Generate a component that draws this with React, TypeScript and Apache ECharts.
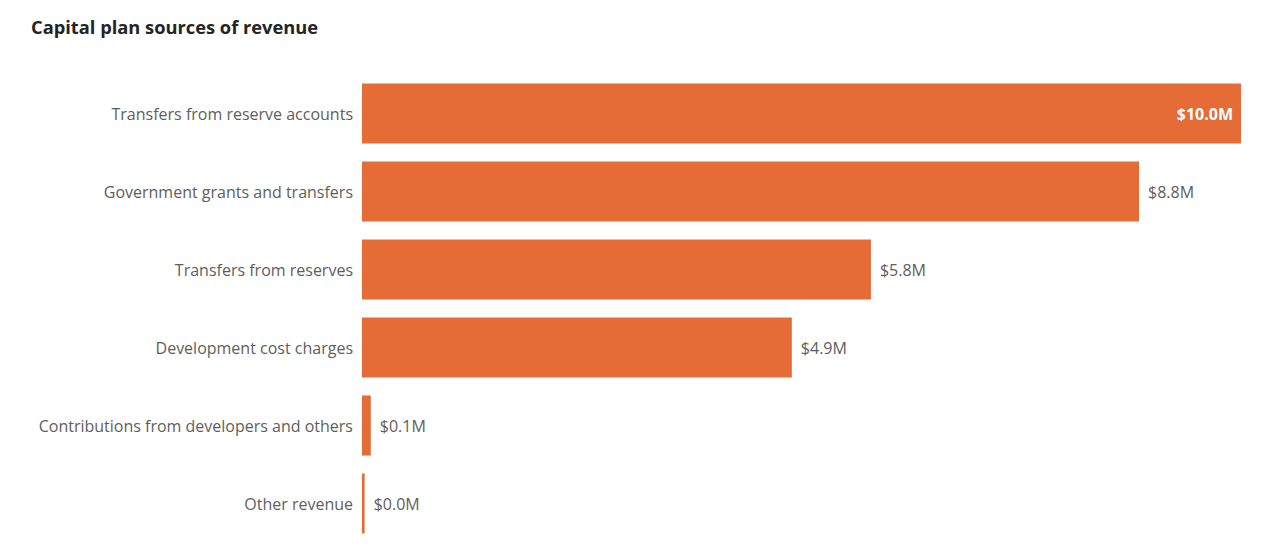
import React, { useEffect, useRef } from "react";
import * as echarts from "echarts";

const categories = [
  "Transfers from reserve accounts",
  "Government grants and transfers",
  "Transfers from reserves",
  "Development cost charges",
  "Contributions from developers and others",
  "Other revenue",
];
const valuesM = [10.0, 8.84, 5.79, 4.89, 0.1, 0.03];
const titleText = "Capital plan sources of revenue";

export default function App() {
  const ref = useRef<HTMLDivElement>(null);
  useEffect(() => {
    if (!ref.current) return;
    const chart = echarts.init(ref.current, null, { renderer: "svg" });
    const font = "'Open Sans', 'Noto Sans', sans-serif";
    const max = Math.max(...valuesM);
    chart.setOption({
      animation: false,
      title: {
        text: titleText,
        left: 26,
        top: 12,
        textStyle: { fontFamily: font, fontSize: 18.3, fontWeight: "bold", color: "#252423" },
      },
      grid: { left: 362, right: 27, top: 74.5, bottom: 13.5, containLabel: false },
      xAxis: {
        type: "value",
        min: 0,
        max: max,
        show: false,
      },
      yAxis: {
        type: "category",
        data: categories,
        inverse: true,
        axisLine: { show: false },
        axisTick: { show: false },
        axisLabel: { margin: 9, fontFamily: font, fontSize: 16, color: "#605E5C" },
      },
      series: [
        {
          type: "bar",
          barCategoryGap: "23%",
          itemStyle: { color: "#E66C37" },
          data: valuesM.map((v, i) => ({
            value: v,
            label:
              i === 0
                ? { show: true, position: "insideRight", distance: 8, color: "#ffffff", fontWeight: "bold" }
                : { show: true, position: "right", distance: 9, color: "#605E5C" },
          })),
          label: {
            fontFamily: font,
            fontSize: 16,
            formatter: (p: any) => "$" + Number(p.value).toFixed(1) + "M",
          },
        },
      ],
    });
    return () => chart.dispose();
  }, []);
  return (
    <div
      ref={ref}
      style={{ position: "absolute", left: 0, top: 0, width: 1268, height: 556 }}
    />
  );
}
